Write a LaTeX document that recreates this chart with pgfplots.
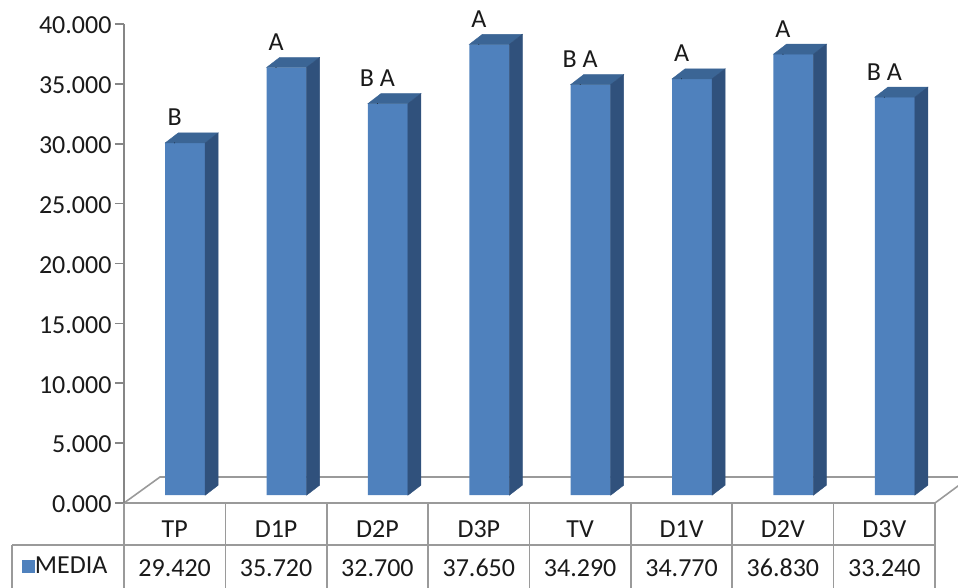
\documentclass[border=0pt]{standalone}
\usepackage{fontspec}
\setmainfont{Carlito}
\usepackage{pgfplots}
\usepackage{pgfplotstable}
\pgfplotsset{compat=1.18}

\definecolor{barfront}{HTML}{4F81BD}
\definecolor{bartop}{HTML}{3B6595}
\definecolor{barside}{HTML}{30517C}
\definecolor{gridgray}{HTML}{9A9A9A}
\definecolor{axisgray}{HTML}{868686}
\definecolor{txt}{HTML}{1A1A1A}

\newcommand{\chartfont}{\fontsize{26}{30}\selectfont}

% mean value per treatment and its significance group
\pgfplotstableread{
x name media sig
0 TP  29.42 B
1 D1P 35.72 A
2 D2P 32.70 B~A
3 D3P 37.65 A
4 TV  34.29 B~A
5 D1V 34.77 A
6 D2V 36.83 A
7 D3V 33.24 B~A
}\datatable

\begin{document}
\begin{tikzpicture}[font=\chartfont, text=txt]
\useasboundingbox (0pt,0pt) rectangle (958pt,-587pt);

% floor of the plot area
\draw[gridgray, line width=1.6pt]
  (124pt,-503pt) -- (160pt,-477pt) -- (960pt,-477pt);
\draw[gridgray, line width=1.6pt] (935pt,-503pt) -- (960pt,-484.5pt);

\begin{axis}[
  at={(124pt,-503pt)}, anchor=south west,
  x=101.375pt, y=11.975pt,
  xmin=-0.5, xmax=7.5, ymin=-0.65, ymax=39.35,
  clip=false,
  axis lines*=left,
  x axis line style={gridgray, line width=1.6pt},
  y axis line style={axisgray, line width=1.6pt},
  tick align=outside,
  major tick length=9pt,
  tick label style={font=\chartfont, text=txt},
  ytick={-0.65,4.35,9.35,14.35,19.35,24.35,29.35,34.35,39.35},
  yticklabels={0.000,5.000,10.000,15.000,20.000,25.000,30.000,35.000,40.000},
  ytick style={axisgray, line width=1.6pt},
  xtick={0,...,7},
  xticklabels from table={\datatable}{name},
  xtick style={draw=none},
  xticklabel style={anchor=center, yshift=-17pt},
  yticklabel style={anchor=east, yshift=-1.5pt},
  /pgf/number format/assume math mode=true,
  legend style={draw=none, fill=none, inner sep=0pt, outer sep=0pt,
    at={(-0.1258,-0.1315)}, anchor=west, font=\chartfont,
    nodes={inner sep=0pt},
    /tikz/every even column/.append style={column sep=8pt}},
]

% front faces of the bars, with the group letters above them
\addplot[ybar, bar width=40pt, bar shift=10.5pt, fill=barfront, draw=none,
  legend image code/.code={\fill[barfront] (0pt,-6.5pt) rectangle (13pt,6.5pt);},
  point meta=explicit symbolic,
  nodes near coords,
  every node near coord/.style={anchor=center, yshift=25.5pt, inner sep=0pt,
    font=\chartfont, text=txt},
] table [x=x, y=media, meta=sig] {\datatable};
\addlegendentry{MEDIA}

% top and side faces of each bar
\addplot[forget plot, scatter, only marks, mark=*, mark size=0.1pt,
  mark options={draw=none, fill=none},
  visualization depends on={rawy \as \barval},
  scatter/@pre marker code/.code={
    \fill[bartop] (-9.5pt,0pt) -- (3.5pt,10pt) -- (43.5pt,10pt) -- (30.5pt,0pt) -- cycle;
    \fill[barside] (30.5pt,0pt) -- (43.5pt,10pt) -- (43.5pt,{10pt-\barval*11.975pt})
      -- (30.5pt,{-\barval*11.975pt}) -- cycle;
  },
  scatter/@post marker code/.code={},
] table [x=x, y=media] {\datatable};

% value row of the data table
\addplot[forget plot, draw=none, mark=none,
  point meta=explicit,
  nodes near coords={\pgfmathprintnumber[fixed, fixed zerofill, precision=3]{\pgfplotspointmeta}},
  every node near coord/.style={anchor=center, inner sep=0pt, font=\chartfont, text=txt},
] table [x=x, y expr=-6.08, meta=media] {\datatable};
\end{axis}

% grid of the data table
\begin{scope}[gridgray, line width=1.6pt]
  \foreach \k in {0,...,8} {
    \draw ({124pt+\k*101.375pt},-503pt) -- ({124pt+\k*101.375pt},-590pt);
  }
  \draw (12pt,-545pt) -- (935pt,-545pt);
  \draw (12pt,-545pt) -- (12pt,-590pt);
\end{scope}
\end{tikzpicture}
\end{document}
